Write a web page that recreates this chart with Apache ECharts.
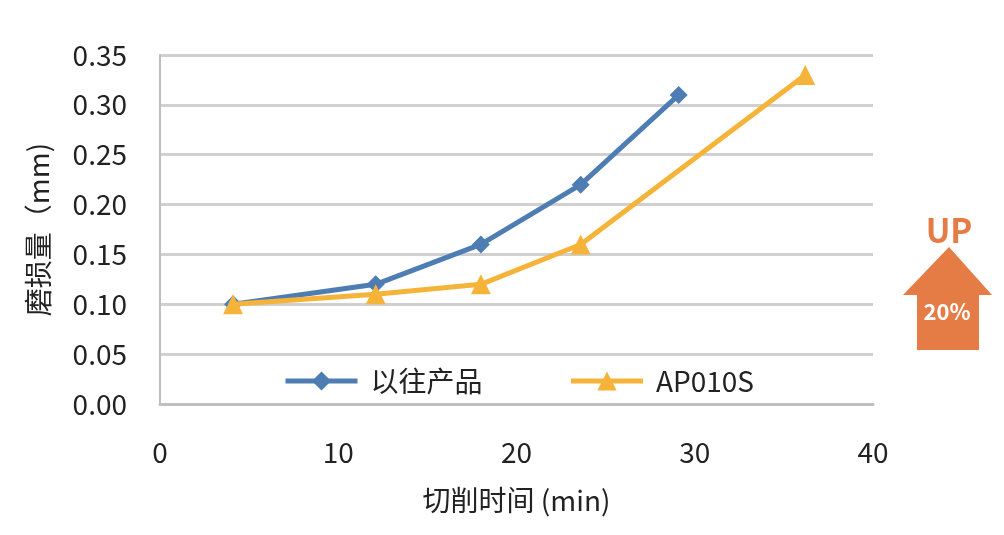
<!DOCTYPE html>
<html>
<head>
<meta charset="utf-8">
<script src="https://cdn.jsdelivr.net/npm/echarts@6/dist/echarts.min.js"></script>
<style>
  html, body { margin: 0; padding: 0; background: #fff; }
  #chart { width: 1004px; height: 535px; }
</style>
</head>
<body>
<div id="chart"></div>
<script>
var FONT = '"Noto Sans CJK SC", "Noto Sans", sans-serif';

// 切削时间 (min) / 磨损量 (mm)
var oldTime = [4.1, 12.1, 18.0, 23.6, 29.1];
var oldWear = [0.10, 0.12, 0.16, 0.22, 0.31];
var newTime = [4.1, 12.1, 18.0, 23.6, 36.2];
var newWear = [0.10, 0.11, 0.12, 0.16, 0.33];

function pairs(xs, ys) {
    return xs.map(function (x, i) { return [x, ys[i]]; });
}

var myChart = echarts.init(document.getElementById('chart'));
var option = {
    animation: false,
    textStyle: { fontFamily: FONT },
    grid: { left: 160, right: 131, top: 55, bottom: 131 },
    legend: {
        top: 362,
        left: 278,
        itemWidth: 72,
        itemHeight: 24,
        itemGap: 86,
        lineStyle: { width: 5 },
        textStyle: { fontSize: 28, color: '#222', fontFamily: FONT, padding: [0, 0, 0, 8] },
        data: ['以往产品', 'AP010S']
    },
    xAxis: {
        type: 'value',
        min: 0, max: 40, interval: 10,
        name: '切削时间 (min)',
        nameLocation: 'middle',
        nameGap: 82,
        nameTextStyle: { fontSize: 28, color: '#222', fontFamily: FONT },
        axisLine: { show: true, lineStyle: { color: '#bfbfbf', width: 3 } },
        axisTick: { show: false },
        splitLine: { show: false },
        axisLabel: { fontSize: 28, color: '#222', margin: 34, fontFamily: FONT }
    },
    yAxis: {
        type: 'value',
        min: 0, max: 0.35, interval: 0.05,
        name: '磨损量（mm)',
        nameLocation: 'middle',
        nameGap: 108,
        nameTextStyle: { fontSize: 28, color: '#222', fontFamily: FONT },
        axisLine: { show: true, lineStyle: { color: '#bfbfbf', width: 2 } },
        axisTick: { show: false },
        splitLine: { lineStyle: { color: '#d0d0d0', width: 3 } },
        axisLabel: {
            fontSize: 28, color: '#222', margin: 33, fontFamily: FONT,
            formatter: function (v) { return v.toFixed(2); }
        }
    },
    series: [
        {
            name: '以往产品',
            type: 'line',
            data: pairs(oldTime, oldWear),
            symbol: 'diamond',
            symbolSize: 18,
            lineStyle: { color: '#4e7db3', width: 5 },
            itemStyle: { color: '#4e7db3' },
            z: 2
        },
        {
            name: 'AP010S',
            type: 'line',
            data: pairs(newTime, newWear),
            symbol: 'triangle',
            symbolSize: 20,
            lineStyle: { color: '#f5b33a', width: 5 },
            itemStyle: { color: '#f5b33a' },
            z: 3
        }
    ],
    graphic: [
        {
            type: 'polygon',
            shape: { points: [[949, 247], [992, 295], [979, 295], [979, 350], [917, 350], [917, 295], [903, 295]] },
            style: { fill: '#e57b45' }
        },
        {
            type: 'text',
            x: 949, y: 230,
            style: {
                text: 'UP', fill: '#e57b45', fontSize: 33, fontWeight: 'bold', fontFamily: FONT,
                align: 'center', verticalAlign: 'middle'
            }
        },
        {
            type: 'text',
            x: 947, y: 312,
            style: {
                text: '20%', fill: '#fff', fontSize: 22, fontWeight: 'bold', fontFamily: FONT,
                align: 'center', verticalAlign: 'middle'
            }
        }
    ]
};
myChart.setOption(option);
</script>
</body>
</html>
